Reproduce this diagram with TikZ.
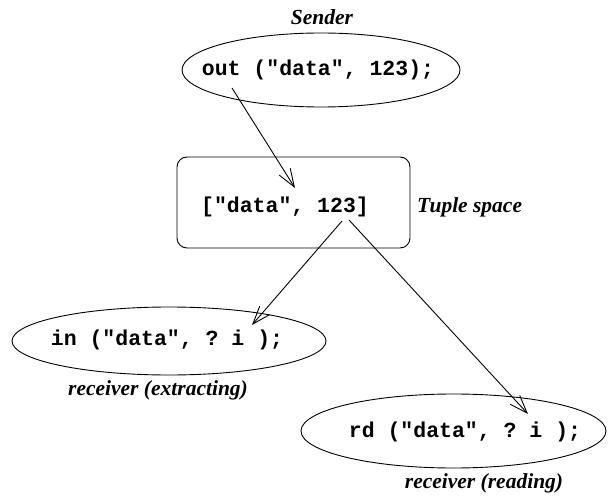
\documentclass[tikz,border=0pt]{standalone}
\usepackage{fontspec}
\setmainfont{Liberation Serif}
\setmonofont{Liberation Mono}
\usetikzlibrary{shapes.geometric,arrows.meta}
\tikzset{
  oval/.style={draw,ellipse,line width=0.9pt,inner sep=0pt},
  code/.style={font=\fontsize{21.5}{24}\selectfont\ttfamily\bfseries,inner sep=0pt},
  lbl/.style={font=\fontsize{21.5}{24}\selectfont\bfseries\itshape,inner sep=0pt},
  tbox/.style={draw,rounded corners=10pt,line width=0.9pt,inner sep=0pt},
  flow/.style={line width=0.9pt,-{Straight Barb[length=18pt,width=13pt,line width=0.9pt]}}
}
\begin{document}
\begin{tikzpicture}[x=1pt,y=-1pt]
\useasboundingbox (0,0) rectangle (610,497);
% sender
\node[lbl] (sender) at (322,17) {Sender};
\node[oval,minimum width=278pt,minimum height=74pt] (outE) at (321,70) {};
\node[code] (outT) at (318,70) {out ("data", 123);};
% tuple space
\node[tbox,minimum width=233pt,minimum height=91pt] (box) at (293.5,202.5) {};
\node[code] (tup) at (285,207) {["data", 123]};
\node[lbl,anchor=west] (tsl) at (417,207) {Tuple space};
% in
\node[oval,minimum width=314pt,minimum height=68pt] (inE) at (169,341) {};
\node[code] (inT) at (167,340) {in ("data", ? i );};
\node[lbl] (inL) at (158,390) {receiver (extracting)};
% rd
\node[oval,minimum width=305pt,minimum height=74pt] (rdE) at (453.5,431) {};
\node[code] (rdT) at (465,432) {rd ("data", ? i );};
\node[lbl] (rdL) at (484,483) {receiver (reading)};
% connectors
\coordinate (a1s) at (232,88);
\coordinate (a1e) at (295,188);
\coordinate (a2s) at (342,221);
\coordinate (a2e) at (252,325);
\coordinate (a3s) at (349,220);
\coordinate (a3e) at (528,414);
\draw[flow] (a1s) -- (a1e);
\draw[flow] (a2s) -- (a2e);
\draw[flow] (a3s) -- (a3e);
\end{tikzpicture}
\end{document}
